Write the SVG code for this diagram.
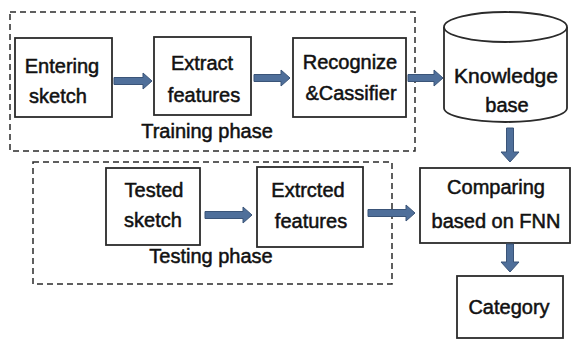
<svg xmlns="http://www.w3.org/2000/svg" width="571" height="340" viewBox="0 0 571 340">
<style>
.box{fill:#fff;stroke:#2b2b2b;stroke-width:1.8}
.dash{fill:none;stroke:#2b2b2b;stroke-width:1.5;stroke-dasharray:6 4}
.t{font-family:"Liberation Sans",Arial,sans-serif;font-size:20px;fill:#111;stroke:#111;stroke-width:0.5;text-anchor:middle}
.arr{fill:#4f6f9a;stroke:#3a5478;stroke-width:1}
</style>
<rect width="571" height="340" fill="#fff"/>
<g id="training-phase">
<rect class="dash" x="10" y="12" width="405" height="139"/>
<text class="t" x="207" y="138">Training phase</text>
</g>
<g id="testing-phase">
<rect class="dash" x="33" y="162" width="359" height="122"/>
<text class="t" x="211" y="263">Testing phase</text>
</g>
<g id="entering-sketch">
<rect class="box" x="15" y="38" width="97" height="79"/>
<text class="t" x="62" y="73">Entering</text>
<text class="t" x="58" y="103">sketch</text>
</g>
<g id="extract-features">
<rect class="box" x="154" y="37" width="97" height="78"/>
<text class="t" x="202" y="70">Extract</text>
<text class="t" x="204" y="102">features</text>
</g>
<g id="recognize-classifier">
<rect class="box" x="293" y="38" width="113" height="79"/>
<text class="t" x="350" y="69">Recognize</text>
<text class="t" x="351" y="100">&amp;Cassifier</text>
</g>
<g id="knowledge-base">
<path class="box" d="M444,27 L444,108 A61.5,14 0 0 0 567,108 L567,27"/>
<ellipse class="box" cx="505.5" cy="27" rx="61.5" ry="15"/>
<text class="t" x="506" y="83" textLength="104" lengthAdjust="spacingAndGlyphs">Knowledge</text>
<text class="t" x="507" y="112">base</text>
</g>
<g id="tested-sketch">
<rect class="box" x="106" y="168" width="94" height="77"/>
<text class="t" x="154" y="197">Tested</text>
<text class="t" x="153" y="227">sketch</text>
</g>
<g id="extrcted-features">
<rect class="box" x="257" y="167" width="106" height="80"/>
<text class="t" x="308" y="197">Extrcted</text>
<text class="t" x="311" y="228">features</text>
</g>
<g id="comparing">
<rect class="box" x="420" y="168" width="150" height="75"/>
<text class="t" x="496" y="194">Comparing</text>
<text class="t" x="496" y="228">based on FNN</text>
</g>
<g id="category">
<rect class="box" x="457" y="276" width="106" height="62"/>
<text class="t" x="509" y="314">Category</text>
</g>
<g id="connectors">
<path class="arr" d="M114,77.5 H143 V73 L152,81 L143,89 V84.5 H114 Z"/>
<path class="arr" d="M254,74.5 H281 V70 L290,78 L281,86 V81.5 H254 Z"/>
<path class="arr" d="M408,74.5 H434 V70 L443,78 L434,86 V81.5 H408 Z"/>
<path class="arr" d="M506.5,128 V152 H501 L510,162 L519,152 H513.5 V128 Z"/>
<path class="arr" d="M205,211.5 H243 V207 L252,215 L243,223 V218.5 H205 Z"/>
<path class="arr" d="M368,209.5 H406 V205 L415,213 L406,221 V216.5 H368 Z"/>
<path class="arr" d="M506.5,244 V262 H501 L510,272 L519,262 H513.5 V244 Z"/>
</g>
</svg>
